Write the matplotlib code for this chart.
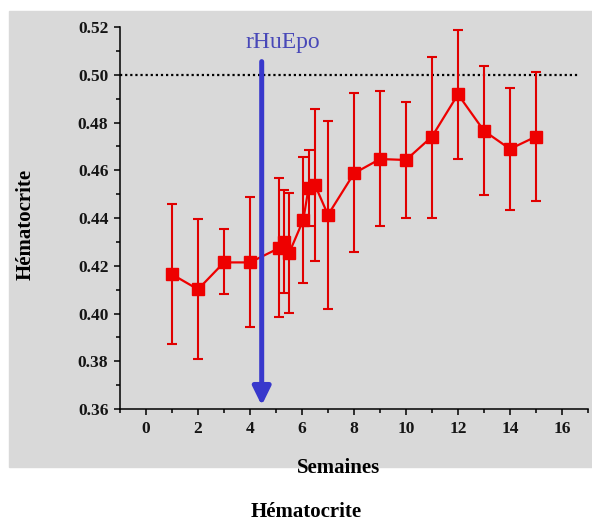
import matplotlib
matplotlib.use("Agg")
import matplotlib.pyplot as plt
from matplotlib.patches import Rectangle
from matplotlib.ticker import MultipleLocator, FormatStrFormatter
import numpy as np

# weeks, hematocrit mean and error bar ends
semaines = [1, 2, 3, 4, 5.1, 5.3, 5.5, 6.05, 6.25, 6.5, 7, 8, 9, 10, 11, 12, 13, 14, 15]
hematocrite = [0.4164, 0.4101, 0.4214, 0.4214, 0.4273, 0.4301, 0.4252, 0.4392, 0.4525, 0.4538,
               0.4413, 0.4587, 0.4647, 0.4643, 0.4741, 0.4918, 0.4765, 0.4689, 0.4741]
haut = [0.4459, 0.4396, 0.4353, 0.4487, 0.4566, 0.4517, 0.4506, 0.4657, 0.4685, 0.4857,
        0.4808, 0.4923, 0.4933, 0.4887, 0.5076, 0.5188, 0.5038, 0.4946, 0.5013]
bas = [0.3872, 0.3811, 0.4083, 0.3945, 0.3987, 0.4087, 0.4003, 0.4129, 0.4365, 0.4221,
       0.4019, 0.4256, 0.4368, 0.4399, 0.4399, 0.4647, 0.4497, 0.4434, 0.4473]
seuil = 0.50
injection = 4.45

plt.rcParams['font.family'] = ['Liberation Serif', 'DejaVu Serif']

fig = plt.figure(figsize=(5.92, 5.22), dpi=100)
fig.add_artist(Rectangle((9 / 592, 1 - 467 / 522), 583 / 592, 456 / 522,
                         transform=fig.transFigure, color='#d9d9d9', zorder=-10))

ax = fig.add_axes([120 / 592, 1 - 409 / 522, 468 / 592, 382 / 522])
ax.set_facecolor('none')

y = np.array(hematocrite)
err = [y - np.array(bas), np.array(haut) - y]
ax.errorbar(semaines, y, yerr=err, color='#ee0000', ecolor='#e00000', elinewidth=1.5,
            capsize=3.8, capthick=1.5, lw=1.6, marker='s', markersize=8, zorder=3)

ax.plot([-1, 16.7], [seuil, seuil], color='black', lw=1.6, linestyle=(0, (1, 1.3)), zorder=2)

ax.annotate('', xy=(injection, 0.3615), xytext=(injection, 0.5055),
            arrowprops=dict(arrowstyle='-|>,head_width=0.27,head_length=0.55',
                            mutation_scale=20, lw=3.6, color='#3838cc',
                            shrinkA=0, shrinkB=0), zorder=4)
ax.text(5.25, 0.5135, 'rHuEpo', color='#4848b8', fontsize=17, ha='center', va='center')

ax.set_xlim(-1, 17)
ax.set_ylim(0.36, 0.52)
ax.xaxis.set_major_locator(MultipleLocator(2))
ax.xaxis.set_minor_locator(MultipleLocator(1))
ax.yaxis.set_major_locator(MultipleLocator(0.02))
ax.yaxis.set_minor_locator(MultipleLocator(0.01))
ax.yaxis.set_major_formatter(FormatStrFormatter('%.2f'))

for s in ['top', 'right']:
    ax.spines[s].set_visible(False)
for s in ['left', 'bottom']:
    ax.spines[s].set_linewidth(1.1)

ax.tick_params(which='major', direction='out', length=4.3, width=1.1, pad=4, labelsize=12.5)
ax.tick_params(which='minor', direction='out', length=3, width=1.1)
for lab in ax.get_xticklabels() + ax.get_yticklabels():
    lab.set_fontweight('bold')
    lab.set_color('#151515')

ax.set_xlabel('Semaines', fontsize=15, fontweight='bold')
ax.xaxis.set_label_coords(0.466, -0.128)
ax.set_ylabel('Hématocrite', fontsize=15, fontweight='bold')
ax.yaxis.set_label_coords(-0.18, 0.484)

fig.text(306 / 592, 1 - 512 / 522, 'Hématocrite', fontsize=15, fontweight='bold',
         ha='center', va='center')

fig.savefig('out.png', dpi=100)
